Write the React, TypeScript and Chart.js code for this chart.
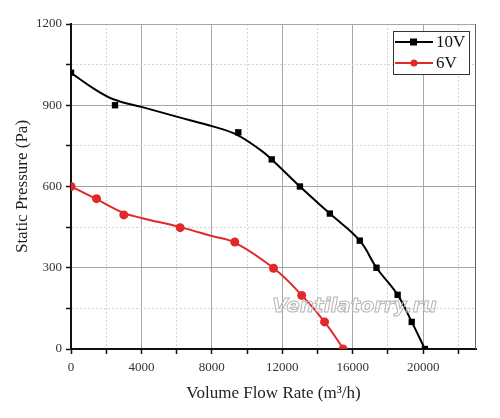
import React, { useEffect, useRef } from "react";
import { Chart, registerables } from "chart.js";

Chart.register(...registerables);

// measured points
const flow10V = [0, 2500, 9500, 11400, 13000, 14700, 16400, 17350, 18550, 19350, 20100];
const pressure10V = [1020, 900, 800, 700, 600, 500, 400, 300, 200, 100, 0];
const flow6V = [0, 1450, 3000, 6200, 9300, 11500, 13100, 14400, 15450];
const pressure6V = [600, 555, 495, 448, 395, 298, 198, 100, 0];

// fitted curves
const fitFlow10V = [0, 1250, 2400, 4050, 6000, 8100, 9430, 10750, 11400, 13000, 14700, 16400, 17350, 18550, 19350, 20100];
const fitPressure10V = [1020, 963, 922, 893, 858, 821, 791, 735, 700, 600, 500, 400, 300, 200, 100, 0];
const fitFlow6V = [0, 1420, 2960, 4000, 6200, 8000, 9330, 11550, 13140, 14400, 15480];
const fitPressure6V = [600, 554, 503, 484, 450, 417, 392, 296, 196, 100, 0];

// axis ticks
const xTickValues = [0, 2000, 4000, 6000, 8000, 10000, 12000, 14000, 16000, 18000, 20000, 22000];
const xMajorTicks = [0, 4000, 8000, 12000, 16000, 20000];
const yTickValues = [0, 150, 300, 450, 600, 750, 900, 1050, 1200];
const yMajorTicks = [0, 300, 600, 900, 1200];

const RED = "#e1292b";
const SERIF = "'Liberation Serif', 'Times New Roman', serif";

const toPoints = (xs: number[], ys: number[]) => xs.map((x, i) => ({ x, y: ys[i] }));

const legendBox = {
  id: "legendBox",
  afterDatasetsDraw(chart: any) {
    const { ctx, chartArea } = chart;
    const x = chartArea.right - 83;
    const y = chartArea.top + 7;
    ctx.save();
    ctx.fillStyle = "#fff";
    ctx.fillRect(x, y, 76, 43);
    ctx.strokeStyle = "#333";
    ctx.lineWidth = 1;
    ctx.strokeRect(x + 0.5, y + 0.5, 76, 43);
    const items = chart.data.datasets.filter((d: any) => d.showLine === false);
    items.forEach((ds: any, i: number) => {
      const cy = y + 11 + i * 21;
      ctx.strokeStyle = ds.borderColor;
      ctx.lineWidth = 2;
      ctx.beginPath();
      ctx.moveTo(x + 2, cy);
      ctx.lineTo(x + 40, cy);
      ctx.stroke();
      ctx.fillStyle = ds.backgroundColor;
      if (ds.pointStyle === "rect") {
        ctx.fillRect(x + 17, cy - 3.5, 7, 7);
      } else {
        ctx.beginPath();
        ctx.arc(x + 21, cy, 3.5, 0, Math.PI * 2);
        ctx.fill();
      }
      ctx.fillStyle = "#111";
      ctx.font = `17px ${SERIF}`;
      ctx.textBaseline = "middle";
      ctx.fillText(ds.label, x + 43, cy + 1);
    });
    ctx.restore();
  },
};

const frameAndMark = {
  id: "frameAndMark",
  afterDraw(chart: any) {
    const { ctx, chartArea } = chart;
    ctx.save();
    ctx.strokeStyle = "#666";
    ctx.lineWidth = 1;
    ctx.beginPath();
    ctx.moveTo(chartArea.right - 0.5, chartArea.top);
    ctx.lineTo(chartArea.right - 0.5, chartArea.bottom);
    ctx.stroke();

    // watermark
    ctx.font = "italic bold 20px 'DejaVu Sans', sans-serif";
    ctx.textAlign = "center";
    ctx.textBaseline = "middle";
    ctx.strokeStyle = "#b5b5b5";
    ctx.lineWidth = 1;
    ctx.strokeText(
      "Ventilatorry.ru",
      chartArea.left + chartArea.width * 0.7,
      chartArea.top + chartArea.height * 0.87
    );
    ctx.restore();
  },
};

const gridColor = (major: number[]) => (c: any) =>
  c.tick && major.includes(c.tick.value) ? "#a6a6a6" : "#d4d4d4";
const gridDash = (major: number[]) => (c: any) =>
  c.tick && !major.includes(c.tick.value) ? [2, 2] : [];

export default function App() {
  const canvasRef = useRef<HTMLCanvasElement>(null);

  useEffect(() => {
    document.body.style.margin = "0";
    if (!canvasRef.current) return;

    const chart = new Chart(canvasRef.current, {
      type: "line",
      data: {
        datasets: [
          {
            label: "10V fit",
            data: toPoints(fitFlow10V, fitPressure10V),
            borderColor: "#000",
            borderWidth: 2,
            pointRadius: 0,
            tension: 0.4,
          },
          {
            label: "6V fit",
            data: toPoints(fitFlow6V, fitPressure6V),
            borderColor: RED,
            borderWidth: 2,
            pointRadius: 0,
            tension: 0.4,
          },
          {
            label: "10V",
            data: toPoints(flow10V, pressure10V),
            showLine: false,
            pointStyle: "rect",
            pointRadius: 4.5,
            borderColor: "#000",
            backgroundColor: "#000",
            borderWidth: 0,
          },
          {
            label: "6V",
            data: toPoints(flow6V, pressure6V),
            showLine: false,
            pointStyle: "circle",
            pointRadius: 4.5,
            borderColor: RED,
            backgroundColor: RED,
            borderWidth: 0,
          },
        ] as any,
      },
      options: {
        responsive: false,
        animation: false,
        layout: { padding: { top: 24, right: 24, left: 0, bottom: 0 } },
        plugins: {
          legend: { display: false },
          tooltip: { enabled: false },
        },
        scales: {
          x: {
            type: "linear",
            min: 0,
            max: 23000,
            afterBuildTicks: (s: any) => {
              s.ticks = xTickValues.map((value) => ({ value }));
            },
            afterFit: (s: any) => {
              s.height = 69;
            },
            ticks: {
              autoSkip: false,
              maxRotation: 0,
              padding: 6,
              color: "#333",
              font: { size: 13, family: SERIF },
              callback: (v: any) => (xMajorTicks.includes(v) ? String(v) : ""),
            },
            grid: {
              color: gridColor(xMajorTicks),
              tickColor: "#111",
              tickLength: 5,
              tickWidth: 1.5,
            },
            border: { color: "#111", width: 2, dash: gridDash(xMajorTicks) as any },
            title: {
              display: true,
              text: "Volume Flow Rate (m³/h)",
              color: "#222",
              font: { size: 17, family: SERIF },
              padding: { bottom: 14 },
            },
          },
          y: {
            min: 0,
            max: 1200,
            afterBuildTicks: (s: any) => {
              s.ticks = yTickValues.map((value) => ({ value }));
            },
            afterFit: (s: any) => {
              s.width = 71;
            },
            ticks: {
              autoSkip: false,
              padding: 4,
              color: "#333",
              font: { size: 13, family: SERIF },
              callback: (v: any) => (yMajorTicks.includes(v) ? String(v) : ""),
            },
            grid: {
              color: gridColor(yMajorTicks),
              tickColor: "#111",
              tickLength: 5,
              tickWidth: 1.5,
            },
            border: { color: "#111", width: 2, dash: gridDash(yMajorTicks) as any },
            title: {
              display: true,
              text: "Static Pressure (Pa)",
              color: "#222",
              font: { size: 17, family: SERIF },
              padding: { top: 12 },
            },
          },
        },
      },
      plugins: [legendBox, frameAndMark],
    });

    return () => {
      chart.destroy();
    };
  }, []);

  return (
    <div style={{ width: 500, height: 418, background: "#fff" }}>
      <canvas ref={canvasRef} width={500} height={418} />
    </div>
  );
}
